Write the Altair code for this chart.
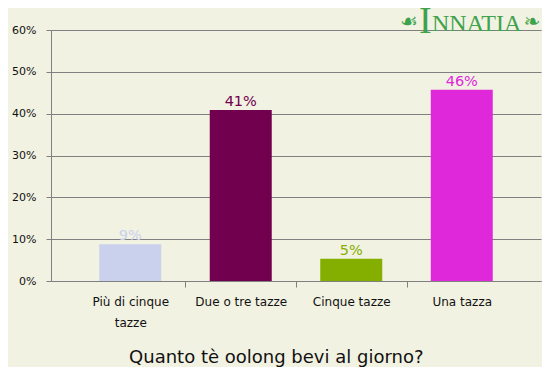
import altair as alt
import pandas as pd

categories = ["Più di cinque tazze", "Due o tre tazze", "Cinque tazze", "Una tazza"]
values = [0.088, 0.409, 0.053, 0.457]
labels = ["9%", "41%", "5%", "46%"]
colors = ["#c9d1ec", "#71004f", "#84ae00", "#de28da"]
y_ticks = [0, 0.1, 0.2, 0.3, 0.4, 0.5, 0.6]
title_text = "Quanto tè oolong bevi al giorno?"
logo_initial = ["I"]
logo_rest = ["NNATIA"]
logo_left = ["☙"]
logo_right = ["❧"]

df = pd.DataFrame({"cat": categories, "val": values, "label": labels})

FONT = "DejaVu Sans"
GRAY = "#808080"
LOGO = "#3fa34d"

x = alt.X(
    "cat:N",
    sort=categories,
    scale=alt.Scale(paddingInner=0, paddingOuter=0.217),
    axis=alt.Axis(
        title=None,
        labelAngle=0,
        labelFont=FONT,
        labelFontSize=12,
        labelColor="#111111",
        labelPadding=9,
        labelLineHeight=21,
        labelBaseline="top",
        tickBand="extent",
        tickSize=6,
        tickColor=GRAY,
        tickOpacity={
            "condition": {"test": "datum.value == 'Una tazza' || datum.index < 0", "value": 0},
            "value": 1,
        },
        domainColor=GRAY,
        grid=False,
        labelExpr="datum.value == 'Più di cinque tazze' ? ['Più di cinque', 'tazze'] : datum.value",
    ),
)
y = alt.Y(
    "val:Q",
    scale=alt.Scale(domain=[0, 0.6]),
    axis=alt.Axis(
        title=None,
        values=y_ticks,
        format=".0%",
        grid=True,
        gridColor=GRAY,
        gridOpacity=1,
        tickSize=5,
        tickColor=GRAY,
        domainColor=GRAY,
        labelPadding=10,
        labelFont=FONT,
        labelFontSize=11,
        labelColor="#111111",
    ),
)
color = alt.Color("cat:N", scale=alt.Scale(domain=categories, range=colors), legend=None)

base = alt.Chart(df)
bars = base.mark_bar(size=62).encode(x=x, y=y, color=color)
texts = base.mark_text(dy=-1, baseline="bottom", fontSize=14.5, font=FONT).encode(
    x=alt.X("cat:N", sort=categories), y="val:Q", text="label:N", color=color
)

logo_i = alt.Chart(pd.DataFrame({"t": logo_initial})).mark_text(
    font="Liberation Serif", fontSize=38, color=LOGO, align="left", baseline="alphabetic"
).encode(text="t:N", x=alt.value(368), y=alt.value(3))
logo_r = alt.Chart(pd.DataFrame({"t": logo_rest})).mark_text(
    font="Liberation Serif", fontSize=24, color=LOGO, align="left", baseline="alphabetic"
).encode(text="t:N", x=alt.value(381), y=alt.value(1))
logo_l = alt.Chart(pd.DataFrame({"t": logo_left})).mark_text(
    font=FONT, fontSize=20, color=LOGO, align="center", baseline="middle"
).encode(text="t:N", x=alt.value(358), y=alt.value(-8))
logo_rr = alt.Chart(pd.DataFrame({"t": logo_right})).mark_text(
    font=FONT, fontSize=20, color=LOGO, align="center", baseline="middle"
).encode(text="t:N", x=alt.value(481), y=alt.value(-8))

chart = (
    alt.layer(bars, texts, logo_i, logo_r, logo_l, logo_rr)
    .properties(
        width=490,
        height=251,
        background="#f2f2e2",
        padding={"left": 43, "top": 22, "right": 1, "bottom": 86},
        autosize=alt.AutoSizeParams(type="none"),
        title=alt.TitleParams(
            title_text,
            orient="bottom",
            anchor="middle",
            frame="bounds",
            fontSize=18,
            font=FONT,
            fontWeight="normal",
            color="#111111",
            offset=21,
        ),
    )
    .configure_view(stroke=None)
)

chart.save("out.html", embed_options={"renderer": "svg", "actions": False})
